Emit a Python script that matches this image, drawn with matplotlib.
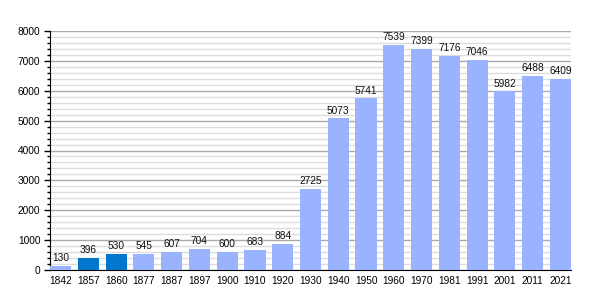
import matplotlib
matplotlib.use("Agg")
import matplotlib.pyplot as plt
from matplotlib.ticker import MultipleLocator

years = ["1842", "1857", "1860", "1877", "1887", "1897", "1900", "1910", "1920", "1930",
         "1940", "1950", "1960", "1970", "1981", "1991", "2001", "2011", "2021"]
population = [130, 396, 530, 545, 607, 704, 600, 683, 884, 2725,
              5073, 5741, 7539, 7399, 7176, 7046, 5982, 6488, 6409]
highlight = ["1857", "1860"]

plt.rcParams['font.family'] = ['Liberation Sans', 'DejaVu Sans']

fig = plt.figure(figsize=(6, 3), dpi=100)
ax = fig.add_axes([50/600, 30/300, 521/600, 239/300])

light = "#99b3ff"
dark = "#0077cc"
bw = 0.76
colors = [dark if y in highlight else light for y in years]
x = list(range(len(years)))
ax.bar(x, population, width=bw, color=colors, zorder=3)
for xi, v in zip(x, population):
    ax.text(xi, v + 90, str(v), ha="center", va="bottom", fontsize=7.3, color="#111111", zorder=4)

ax.set_xlim(-bw / 2, len(years) - 1 + bw / 2)
ax.set_ylim(0, 8000)
ax.set_xticks(x)
ax.set_xticklabels(years, fontsize=7.3)
ax.yaxis.set_major_locator(MultipleLocator(1000))
ax.yaxis.set_minor_locator(MultipleLocator(200))
ax.tick_params(axis="y", labelsize=7.3, length=4, width=1, pad=3)
ax.tick_params(axis="y", which="minor", length=2.2, width=1)
ax.tick_params(axis="x", length=0, pad=4)
ax.grid(axis="y", which="major", color="#aaaaaa", linewidth=1, zorder=0)
ax.grid(axis="y", which="minor", color="#dddddd", linewidth=1, zorder=0)
for s in ["top", "right"]:
    ax.spines[s].set_visible(False)
ax.spines["left"].set_color("black")
ax.spines["bottom"].set_color("black")

fig.savefig("out.png", dpi=100)
